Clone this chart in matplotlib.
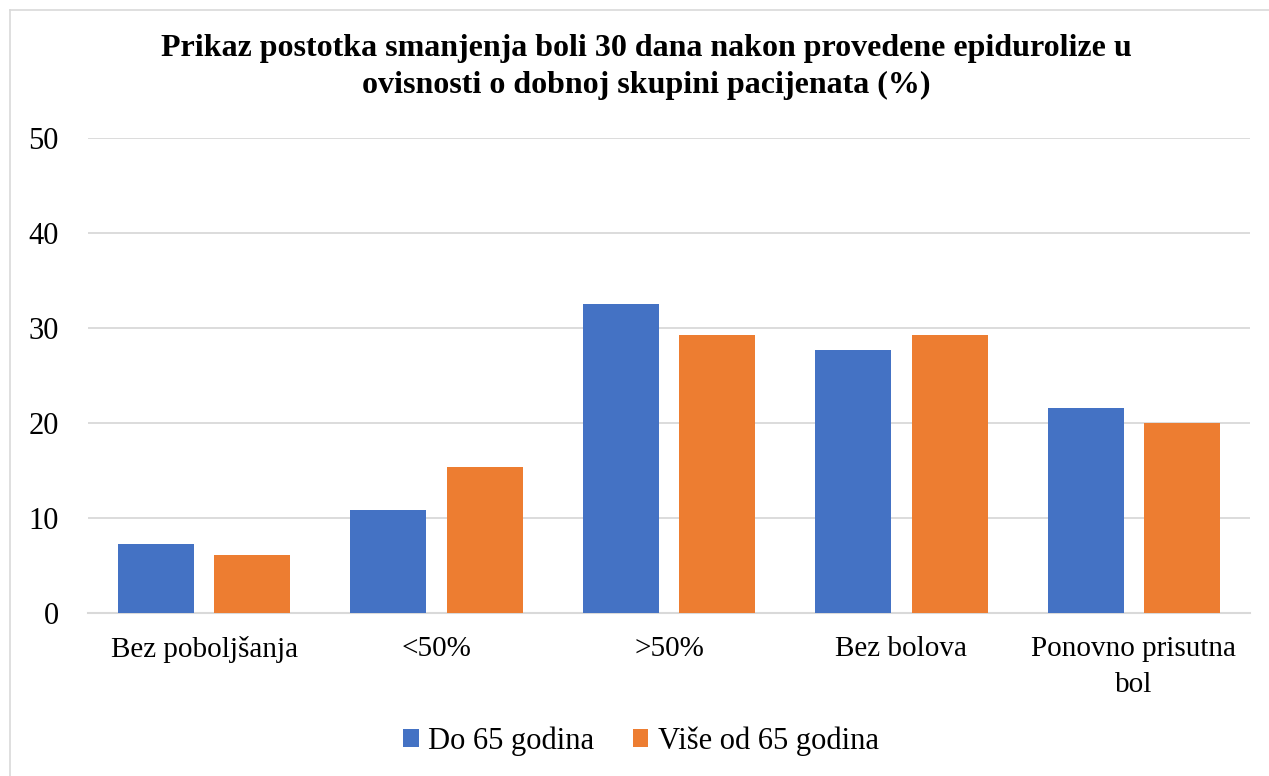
import numpy as np
import matplotlib.pyplot as plt
from matplotlib.lines import Line2D

categories = ['Bez poboljšanja', '<50%', '>50%', 'Bez bolova', 'Ponovno prisutna\nbol']
do_65 = [7.2, 10.8, 32.5, 27.7, 21.6]
vise_od_65 = [6.1, 15.3, 29.2, 29.2, 20.0]
series_names = ['Do 65 godina', 'Više od 65 godina']
title = ('Prikaz postotka smanjenja boli 30 dana nakon provedene epidurolize u\n'
         'ovisnosti o dobnoj skupini pacijenata (%)')

plt.rcParams['font.family'] = ['Liberation Serif', 'DejaVu Serif']

W, H = 1269, 776
fig = plt.figure(figsize=(W / 100, H / 100), dpi=100)
ax = fig.add_axes([88 / W, 1 - 612.7 / H, (1250 - 88) / W, (612.7 - 137.7) / H])

x = np.arange(len(categories))
w = 0.327
off = 0.207
ax.bar(x - off, do_65, w, color='#4472C4', label=series_names[0], zorder=3)
ax.bar(x + off, vise_od_65, w, color='#ED7D31', label=series_names[1], zorder=3)

ax.set_xlim(-0.5, len(categories) - 0.5)
ax.set_ylim(0, 50)
ax.set_yticks(range(0, 51, 10))
ax.yaxis.grid(True, color='#d9d9d9', linewidth=1.3, zorder=0)
ax.set_axisbelow(True)
for s in ['top', 'right', 'left']:
    ax.spines[s].set_visible(False)
ax.spines['bottom'].set_color('#d9d9d9')
ax.spines['bottom'].set_linewidth(1.5)

ax.set_xticks(x)
ax.set_xticklabels(categories, fontsize=21, linespacing=1.5)
ax.tick_params(axis='x', length=0, pad=17)
ax.tick_params(axis='y', length=0, pad=21, labelsize=22)

fig.text(646 / W, 1 - 67 / H, title, ha='center', va='center',
         fontsize=23, fontweight='bold', linespacing=1.38)

fig.legend(loc='center', bbox_to_anchor=(641 / W, 1 - 741 / H), ncol=2,
           frameon=False, fontsize=22, handlelength=0.5, handleheight=0.5,
           handletextpad=0.3, columnspacing=1.28)

# outer chart border
fig.add_artist(Line2D([10 / W, 10 / W], [0, 1 - 9.5 / H], color='#d9d9d9', linewidth=1.2))
fig.add_artist(Line2D([10 / W, 1], [1 - 9.5 / H, 1 - 9.5 / H], color='#d9d9d9', linewidth=1.2))

fig.savefig('out.png', dpi=100)
